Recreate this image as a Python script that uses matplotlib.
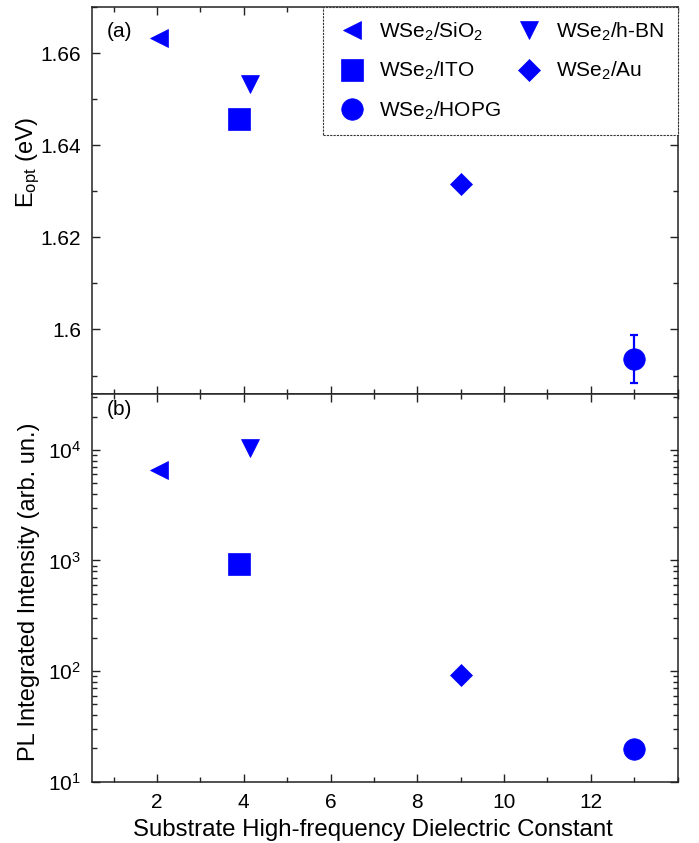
import matplotlib
matplotlib.use("Agg")
import matplotlib.pyplot as plt
from matplotlib.ticker import MultipleLocator, FixedLocator, FixedFormatter, LogLocator

plt.rcParams['font.family'] = ['Liberation Sans', 'DejaVu Sans']
plt.rcParams['mathtext.fontset'] = 'custom'
plt.rcParams['mathtext.rm'] = 'Liberation Sans'
plt.rcParams['mathtext.it'] = 'Liberation Sans:italic'
plt.rcParams['mathtext.default'] = 'regular'

# ---- data ----
labels = ["WSe$_2$/SiO$_2$", "WSe$_2$/h-BN", "WSe$_2$/ITO", "WSe$_2$/Au", "WSe$_2$/HOPG"]
eps_inf = [2.05, 4.15, 3.9, 9.0, 13.0]
e_opt = [1.6633, 1.6532, 1.6457, 1.6316, 1.5936]
e_opt_err = [0.0, 0.0, 0.0, 0.0, 0.0052]
pl_int = [6550, 10450, 925, 92, 19.6]
markers = ["<", "v", "s", "D", "o"]
msizes = [12.5, 12.5, 15.5, 10.8, 15.5]
color = "#0000ff"

x_ticks = [2, 4, 6, 8, 10, 12]
e_ticks = [1.60, 1.62, 1.64, 1.66]
e_ticklabels = ["1.6", "1.62", "1.64", "1.66"]

fig = plt.figure(figsize=(6.99, 8.43), dpi=100)
W, H = 699, 843
left, right = 92 / W, 677.5 / W
ax1 = fig.add_axes([left, 1 - 394 / H, right - left, (394 - 7) / H])
ax2 = fig.add_axes([left, 1 - 781.7 / H, right - left, (781.7 - 394) / H])

handles = []
for i in range(len(labels)):
    if e_opt_err[i] > 0:
        ax1.errorbar(eps_inf[i], e_opt[i], yerr=e_opt_err[i], fmt='none',
                     ecolor=color, elinewidth=1.6, capsize=3, capthick=1.6, zorder=2)
    h, = ax1.plot(eps_inf[i], e_opt[i], linestyle='none', marker=markers[i],
                  ms=msizes[i], color=color, mec=color, mew=0.5, label=labels[i], zorder=3)
    handles.append(h)
    ax2.plot(eps_inf[i], pl_int[i], linestyle='none', marker=markers[i],
             ms=msizes[i], color=color, mec=color, mew=0.5, zorder=3)

for ax in (ax1, ax2):
    ax.set_xlim(0.5, 14)
    ax.xaxis.set_major_locator(FixedLocator(x_ticks))
    ax.xaxis.set_minor_locator(MultipleLocator(1))
    ax.tick_params(which='both', direction='in', top=True, right=True, width=1.0,
                   labelsize=15, color='#222222', pad=8)
    ax.tick_params(which='major', length=6)
    ax.tick_params(which='minor', length=3.8)
    for s in ax.spines.values():
        s.set_linewidth(1.1)
        s.set_color('#222222')

ax1.set_ylim(1.586, 1.670)
ax1.yaxis.set_major_locator(FixedLocator(e_ticks))
ax1.yaxis.set_major_formatter(FixedFormatter(e_ticklabels))
ax1.yaxis.set_minor_locator(MultipleLocator(0.01))
ax1.tick_params(axis='x', labelbottom=False)
ax1.set_ylabel("E$_{opt}$ (eV)", fontsize=17)
ax1.yaxis.set_label_coords(-0.085, 0.60)
ax1.text(0.026, 0.962, "(a)", transform=ax1.transAxes, fontsize=15, va='top', ha='left')

ax2.set_yscale('log')
ax2.set_ylim(10, 32000)
ax2.yaxis.set_major_locator(LogLocator(base=10, numticks=10))
ax2.yaxis.set_minor_locator(LogLocator(base=10, subs=range(2, 10), numticks=20))
ax2.set_ylabel("PL Integrated Intensity (arb. un.)", fontsize=17)
ax2.yaxis.set_label_coords(-0.088, 0.49)
ax2.set_xlabel("Substrate High-frequency Dielectric Constant", fontsize=17.3)
ax2.xaxis.set_label_coords(0.479, -0.095)
ax2.text(0.026, 0.985, "(b)", transform=ax2.transAxes, fontsize=15, va='top', ha='left')

order = [0, 2, 4, 1, 3]
leg = ax1.legend([handles[i] for i in order], [labels[i] for i in order],
                 loc='upper right', bbox_to_anchor=(1.0, 1.0), borderaxespad=0,
                 ncol=2, fontsize=15, frameon=True, fancybox=False,
                 columnspacing=0.6, handletextpad=0.55, labelspacing=0.82,
                 borderpad=0.65, handlelength=1.5, markerscale=1.0)
fr = leg.get_frame()
fr.set_edgecolor('#333333')
fr.set_linewidth(0.8)
fr.set_linestyle((0, (2, 1)))
fr.set_alpha(1)
fr.set_facecolor('white')

fig.savefig("out.png", dpi=100)
